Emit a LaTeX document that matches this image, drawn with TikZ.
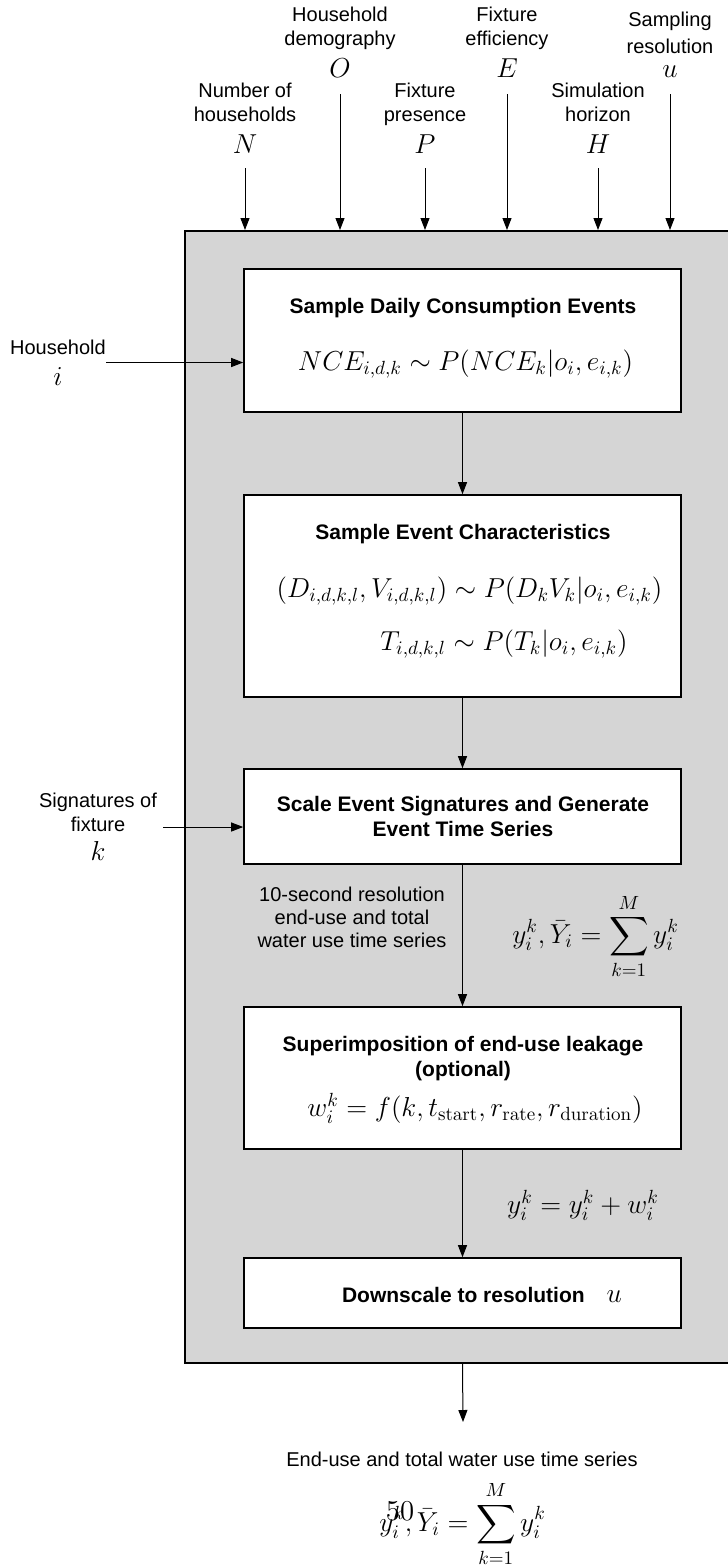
\documentclass[tikz,border=0pt]{standalone}
\usepackage{amsmath}
\usepackage[no-math]{fontspec}
\newfontfamily\arialf{Liberation Sans}
\usetikzlibrary{arrows.meta}
\definecolor{panel}{RGB}{213,213,213}
\newcommand\mathL[1]{\scalebox{0.952}{\fontsize{14.4}{17}\selectfont$#1$}}
\newcommand\mathLD[1]{\scalebox{0.952}{\fontsize{14.4}{17}\selectfont$\displaystyle #1$}}
\begin{document}
\begin{tikzpicture}[x=0.5pt,y=-0.5pt,
  txt/.style={font=\arialf\fontsize{10}{12}\selectfont, align=center, inner sep=0pt},
  ttl/.style={font=\arialf\bfseries\fontsize{10.5}{12.25}\selectfont, align=center, inner sep=0pt},
  mth/.style={inner sep=0pt},
  procbox/.style={draw, line width=0.8pt, fill=white, minimum width=218.5pt, inner sep=0pt},
  arr/.style={-{Triangle[length=6pt,width=4.5pt]}, line width=0.5pt},
]
\clip (0,0) rectangle (728,1565);
\fill[white] (0,0) rectangle (728,1565);

% panel
\node[draw, line width=1pt, fill=panel, minimum width=300pt, minimum height=566pt, inner sep=0pt] (gray) at (485,797) {};

% process boxes
\node[procbox, minimum height=71.5pt] (b1) at (462.5,340.5) {};
\node[procbox, minimum height=101pt] (b2) at (462.5,596) {};
\node[procbox, minimum height=47.5pt] (b3) at (462.5,816.5) {};
\node[procbox, minimum height=71pt] (b4) at (462.5,1078) {};
\node[procbox, minimum height=35pt] (b5) at (462.5,1293) {};

% box contents
\node[ttl, anchor=base] (t1) at (463,313.5) {Sample Daily Consumption Events};
\node[mth, anchor=base] (f1) at (465.5,370) {\mathL{NCE_{i,d,k}\sim P(NCE_k|o_i,e_{i,k})}};

\node[ttl, anchor=base] (t2) at (463,539.5) {Sample Event Characteristics};
\node[mth, anchor=base] (f2a) at (469.5,597) {\mathL{(D_{i,d,k,l},V_{i,d,k,l})\sim P(D_kV_k|o_i,e_{i,k})}};
\node[mth, anchor=base] (f2b) at (504,650) {\mathL{T_{i,d,k,l}\sim P(T_k|o_i,e_{i,k})}};

\node[ttl, anchor=south] (t3) at (463,837) {Scale Event Signatures and Generate\\Event Time Series};

\node[ttl, anchor=south] (t4) at (463,1081) {Superimposition of end-use leakage\\(optional)};
\node[mth, anchor=base] (f4) at (475,1116) {\mathL{w_i^k=f(k,t_{\mathrm{start}},r_{\mathrm{rate}},r_{\mathrm{duration}})}};

\node[ttl, anchor=base] (t5) at (482,1302.5) {Downscale to resolution\hspace{11pt}\mathL{u}};

% flow arrows
\draw[arr] (b1) -- (b2);
\draw[arr] (b2) -- (b3);
\draw[arr] (b3) -- (b4);
\draw[arr] (b4) -- (b5);

% arrow-side labels
\node[txt, anchor=south, font=\arialf\fontsize{10}{11.5}\selectfont] (lab10) at (352,948) {10-second resolution\\end-use and total\\water use time series};
\node[mth] (sum1) at (595.5,936.5) {\mathLD{y_i^k,\bar{Y}_i=\sum_{k=1}^{M}y_i^k}};
\node[mth] (eqw) at (583,1205) {\mathL{y_i^k=y_i^k+w_i^k}};

% top inputs
\node[txt, anchor=south] (lN) at (245,154) {Number of\\households\\[4pt]\mathL{N}};
\node[txt, anchor=south] (lO) at (340,77.6) {Household\\demography\\[4pt]\mathL{O}};
\node[txt, anchor=south] (lP) at (425,154) {Fixture\\presence\\[4pt]\mathL{P}};
\node[txt, anchor=south] (lE) at (507,77.6) {Fixture\\efficiency\\[4pt]\mathL{E}};
\node[txt, anchor=south] (lH) at (598,154) {Simulation\\horizon\\[4pt]\mathL{H}};
\node[txt, anchor=south] (lu) at (670,77.6) {Sampling\\[1.5pt]resolution\\\mathL{u}};

\draw[arr, shorten <=7pt] (lN.south) -- (lN.south |- gray.north);
\draw[arr, shorten <=8.2pt] (lO.south) -- (lO.south |- gray.north);
\draw[arr, shorten <=7pt] (lP.south) -- (lP.south |- gray.north);
\draw[arr, shorten <=8.2pt] (lE.south) -- (lE.south |- gray.north);
\draw[arr, shorten <=7pt] (lH.south) -- (lH.south |- gray.north);
\draw[arr, shorten <=8.2pt] (lu.south) -- (lu.south |- gray.north);

% left inputs
\node[txt] (lHouse) at (58,362.5) {Household\\[3.4pt]\mathL{i}};
\draw[arr] (lHouse.east) -- (lHouse.east -| b1.west);
\node[txt] (lSig) at (98,827) {Signatures of\\fixture\\[2.5pt]\mathL{k}};
\draw[arr, shorten <=3pt] (lSig.east) -- (lSig.east -| b3.west);

% output
\coordinate (outTip) at (463,1422);
\draw[arr] (b5.south |- gray.south) -- (outTip);
\node[txt, anchor=base] (outlab) at (462,1466) {End-use and total water use time series};
\node[mth] (sum2) at (462.5,1524) {\mathLD{y_i^k,\bar{Y}_i=\sum_{k=1}^{M}y_i^k}};
\node[inner sep=0pt, anchor=base, font=\rmfamily\fontsize{14.4}{17}\selectfont] (pg) at (400,1520) {50};
\end{tikzpicture}
\end{document}
